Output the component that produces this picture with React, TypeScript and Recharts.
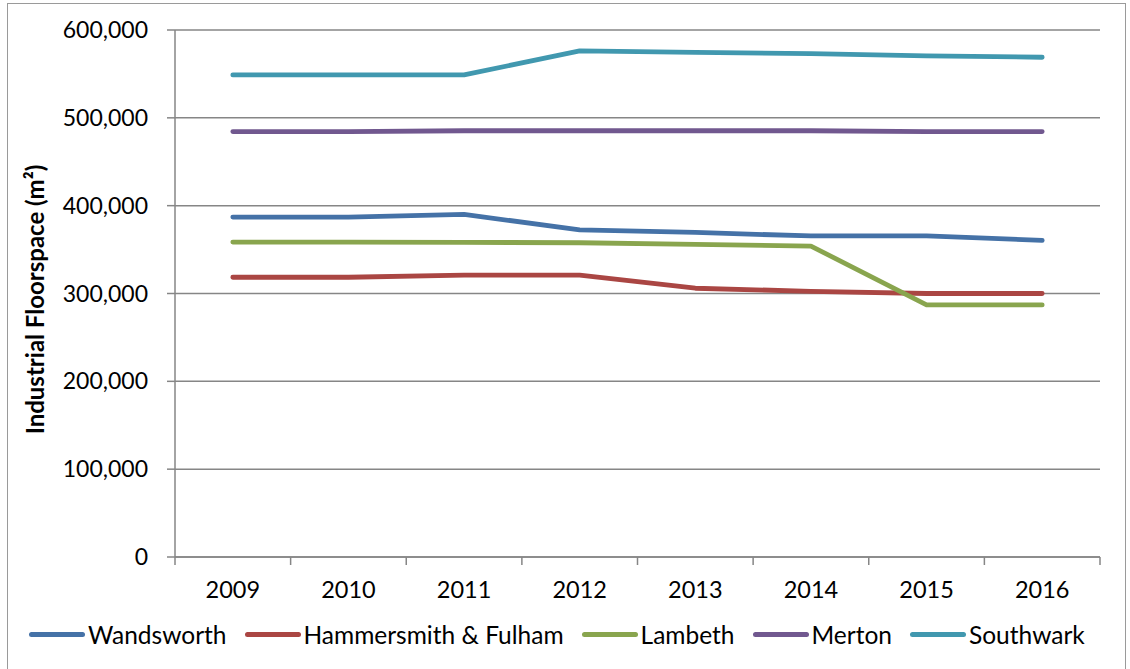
import React from 'react';
import { LineChart, Line, XAxis, YAxis, CartesianGrid } from 'recharts';

// Industrial floorspace (m²) by London borough, 2009–2016
const years = ['2009', '2010', '2011', '2012', '2013', '2014', '2015', '2016'];
const wandsworth = [387000, 387000, 390000, 372500, 369500, 365500, 365500, 360500];
const hammersmithFulham = [318500, 318500, 321000, 321000, 306000, 302500, 300000, 300000];
const lambeth = [358500, 358500, 358200, 357800, 356000, 354000, 287000, 287000];
const merton = [484300, 484300, 485300, 485300, 485300, 485300, 484300, 484300];
const southwark = [548800, 548800, 548800, 576200, 574600, 573000, 570600, 569000];
const yTicks = [0, 100000, 200000, 300000, 400000, 500000, 600000];

const seriesList = [
  { key: 'wandsworth', name: 'Wandsworth', color: '#4572A7', values: wandsworth },
  { key: 'hammersmith', name: 'Hammersmith & Fulham', color: '#AA4643', values: hammersmithFulham },
  { key: 'lambeth', name: 'Lambeth', color: '#89A54E', values: lambeth },
  { key: 'merton', name: 'Merton', color: '#71588F', values: merton },
  { key: 'southwark', name: 'Southwark', color: '#4198AF', values: southwark },
];

// Each year sits in the middle of its own band; band edges carry the tick marks.
const data = years.map((year, i) => {
  const row: Record<string, number | string> = { year, pos: i + 0.5 };
  seriesList.forEach((s) => {
    row[s.key] = s.values[i];
  });
  return row;
});

const xTicks: number[] = [];
for (let i = 0; i <= years.length * 2; i++) xTicks.push(i / 2);

const FONT = 'Lato, "Open Sans", sans-serif';
const AXIS_GREY = '#868686';

const formatThousands = (v: number) => v.toLocaleString('en-US');

const YearTick = (props: any) => {
  const { x, y, payload } = props;
  const v = payload.value as number;
  if (Number.isInteger(v)) {
    return <line x1={x} x2={x} y1={y} y2={y + 8} stroke={AXIS_GREY} strokeWidth={1.5} />;
  }
  const label = years[Math.floor(v)];
  return (
    <text x={x} y={y + 41} textAnchor="middle" fill="#000" fontSize={23.5} fontFamily={FONT}>
      {label}
    </text>
  );
};

const YTitle = (props: any) => {
  const { viewBox } = props;
  const cx = viewBox.x + 34;
  const cy = viewBox.y + viewBox.height / 2 + 6;
  return (
    <text
      x={cx}
      y={cy}
      transform={`rotate(-90 ${cx} ${cy})`}
      textAnchor="middle"
      dominantBaseline="central"
      fontFamily={FONT}
      fontWeight={700}
      fontSize={24}
      fill="#000"
    >
      Industrial Floorspace (m²)
    </text>
  );
};

export default function App() {
  return (
    <div
      style={{
        position: 'fixed',
        left: 0,
        top: 0,
        width: 1130,
        height: 669,
        background: '#fff',
        overflow: 'hidden',
      }}
    >
      <div
        style={{
          position: 'absolute',
          left: 7,
          top: 3,
          width: 1119,
          height: 680,
          border: '1.5px solid #9a9a9a',
          boxSizing: 'border-box',
        }}
      />
      <LineChart
        width={1130}
        height={669}
        data={data}
        margin={{ top: 30, right: 30, bottom: 0, left: 0 }}
        style={{ position: 'absolute', left: 0, top: 0 }}
      >
        <CartesianGrid vertical={false} stroke={AXIS_GREY} strokeWidth={1.5} />
        <XAxis
          dataKey="pos"
          type="number"
          domain={[0, years.length]}
          ticks={xTicks}
          interval={0}
          height={112}
          tickSize={0}
          tickMargin={0}
          tickLine={false}
          axisLine={{ stroke: AXIS_GREY, strokeWidth: 1.5 }}
          tick={<YearTick />}
        />
        <YAxis
          type="number"
          domain={[0, 600000]}
          ticks={yTicks}
          interval={0}
          width={175}
          tickSize={8}
          tickMargin={19}
          tickFormatter={formatThousands}
          tickLine={{ stroke: AXIS_GREY, strokeWidth: 1.5 }}
          axisLine={{ stroke: AXIS_GREY, strokeWidth: 1.5 }}
          tick={{ fill: '#000', fontSize: 23, fontFamily: FONT }}
          label={<YTitle />}
        />
        {seriesList.map((s) => (
          <Line
            key={s.key}
            dataKey={s.key}
            name={s.name}
            type="linear"
            stroke={s.color}
            strokeWidth={4.8}
            strokeLinecap="round"
            strokeLinejoin="round"
            dot={false}
            activeDot={false}
            isAnimationActive={false}
          />
        ))}
      </LineChart>
      <div
        style={{
          position: 'absolute',
          left: 29,
          top: 620,
          display: 'flex',
          alignItems: 'center',
          fontFamily: FONT,
          fontSize: 24.5,
          color: '#000',
          whiteSpace: 'nowrap',
        }}
      >
        {seriesList.map((s) => (
          <div key={s.key} style={{ display: 'flex', alignItems: 'center', marginRight: 18 }}>
            <span
              style={{
                display: 'inline-block',
                width: 56,
                height: 5,
                borderRadius: 3,
                background: s.color,
                marginRight: 3,
              }}
            />
            <span>{s.name}</span>
          </div>
        ))}
      </div>
    </div>
  );
}
